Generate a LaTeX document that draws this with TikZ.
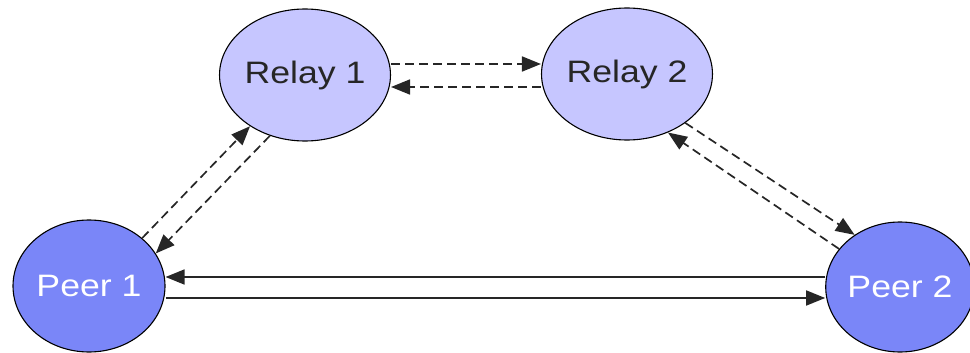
\documentclass[tikz,border=0pt]{standalone}
\usepackage{fontspec}
\setmainfont{Liberation Sans}
\newfontfamily\labelfont[FakeStretch=1.15]{Liberation Sans}
\usetikzlibrary{arrows.meta,shapes.geometric}
\definecolor{relayfill}{RGB}{198,198,255}
\definecolor{peerfill}{RGB}{122,134,248}
\tikzset{
  relay/.style={ellipse, draw=black, line width=1.1pt, fill=relayfill,
    minimum width=150pt, minimum height=132pt, inner sep=0pt,
    font=\labelfont\fontsize{31}{31}\selectfont, text=black!85},
  peer/.style={ellipse, draw=black, line width=1.1pt, fill=peerfill,
    minimum width=150pt, minimum height=132pt, inner sep=0pt,
    font=\labelfont\fontsize{31}{31}\selectfont, text=white},
  link/.style={line width=1.7pt, black!85,
    -{Triangle[length=19pt 0 0,width=15pt 0 0]}},
  relaylink/.style={link, dash pattern=on 9pt off 5pt},
}
\begin{document}
\begin{tikzpicture}[x=1pt,y=-1pt]
  \useasboundingbox (0,0) rectangle (970,353);

  % nodes
  \node[relay] (r1) at (305,75) {Relay 1};
  \node[relay] (r2) at (627,74) {Relay 2};
  \node[peer, minimum width=152pt] (p1) at (89,286) {Peer 1};
  \node[peer, minimum width=140pt, minimum height=130pt] (p2) at (900,287) {Peer 2};

  % relay to relay
  \draw[relaylink] ([yshift=11pt]r1.east) -- ([yshift=10pt]r2.west);
  \draw[relaylink] ([yshift=-13pt]r2.west) -- ([yshift=-12pt]r1.east);

  % peer 1 and relay 1
  \draw[relaylink] (p1.42) -- (r1.223);
  \draw[relaylink] (r1.240) -- (p1.26);

  % relay 2 and peer 2
  \draw[relaylink] (r2.320) -- (p2.131);
  \draw[relaylink] (p2.148) -- (r2.305);

  % direct peer connection
  \draw[link] ([yshift=10pt]p2.west) -- ([yshift=9pt]p1.east);
  \draw[link] ([yshift=-12pt]p1.east) -- ([yshift=-11pt]p2.west);
\end{tikzpicture}
\end{document}
